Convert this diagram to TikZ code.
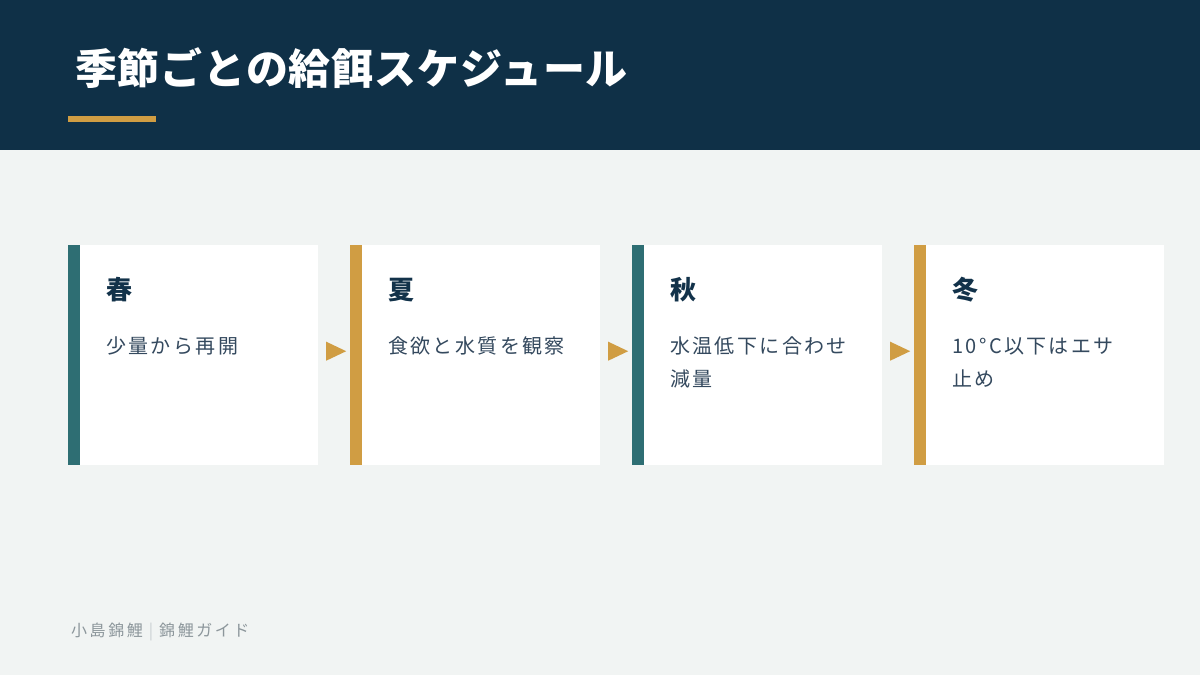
\documentclass[tikz,border=0pt]{standalone}
\usepackage{fontspec}
\usetikzlibrary{calc}
\newfontfamily\jpfont{Noto Sans CJK JP}
\newfontfamily\jptitle[LetterSpace=2]{Noto Sans CJK JP}
\newfontfamily\jpdesc[LetterSpace=12]{Noto Sans CJK JP}
\newfontfamily\jpfoot[LetterSpace=16]{Noto Sans CJK JP}
\definecolor{bg}{HTML}{F1F4F3}
\definecolor{navy}{HTML}{0F3047}
\definecolor{teal}{HTML}{2E6E73}
\definecolor{gold}{HTML}{D09D43}
\definecolor{headtxt}{HTML}{12324A}
\definecolor{desctxt}{HTML}{34495E}
\definecolor{foottxt}{HTML}{8C969B}
\definecolor{footbar}{HTML}{C9CFD2}
\tikzset{
  card/.style={fill=white, draw=none, minimum width=250pt, minimum height=220pt, inner sep=0pt, anchor=north west},
  cardbar/.style={draw=none, minimum width=12pt, minimum height=220pt, inner sep=0pt, anchor=north west},
  season/.style={anchor=west, inner sep=0pt, text=headtxt, font=\jpfont\bfseries\fontsize{26}{30}\selectfont},
  desc/.style={anchor=west, inner sep=0pt, text=desctxt, font=\jpdesc\fontsize{20}{24}\selectfont},
  arrowtip/.style={fill=gold, draw=none},
}
\begin{document}
\begin{tikzpicture}[x=1pt,y=-1pt]
\useasboundingbox (0,0) rectangle (1200,675);
\fill[bg] (0,0) rectangle (1200,675);
\fill[navy] (0,0) rectangle (1200,150);
\node[anchor=west, inner sep=0pt, text=white, font=\jptitle\bfseries\fontsize{42}{48}\selectfont] (title) at (75,68.5) {季節ごとの給餌スケジュール};
\fill[gold] (68,116) rectangle (156,122);

% cards
\foreach \i/\x/\c in {1/68/teal,2/350/gold,3/632/teal,4/914/gold}{
  \node[card] (c\i) at (\x,245) {};
  \node[cardbar, fill=\c] (b\i) at (\x,245) {};
}
\node[season] (s1) at (106,290) {春};
\node[season] (s2) at (388,290) {夏};
\node[season] (s3) at (670,290) {秋};
\node[season] (s4) at (952,290) {冬};

\node[desc] (d1) at (106,346) {少量から再開};
\node[desc] (d2) at (388,346) {食欲と水質を観察};
\node[desc] (d3a) at (670,346) {水温低下に合わせ};
\node[desc] (d3b) at (670,379) {減量};
\node[desc] (d4a) at (952,346) {10°C以下はエサ};
\node[desc] (d4b) at (952,379) {止め};

% arrows between cards
\foreach \a/\b in {1/2,2/3,3/4}{
  \coordinate (m\a) at ($(c\a.east)!0.5!(b\b.west)+(2,-4)$);
  \fill[arrowtip] ($(m\a)+(-10,-9.5)$) -- ($(m\a)+(10,0)$) -- ($(m\a)+(-10,9.5)$) -- cycle;
}

% footer
\node[anchor=west, inner sep=0pt, text=foottxt, font=\jpfoot\fontsize{16}{20}\selectfont] (foot) at (71,632) {小島錦鯉\hspace{6pt}\textcolor{footbar}{|}\hspace{6pt}錦鯉ガイド};
\end{tikzpicture}
\end{document}
